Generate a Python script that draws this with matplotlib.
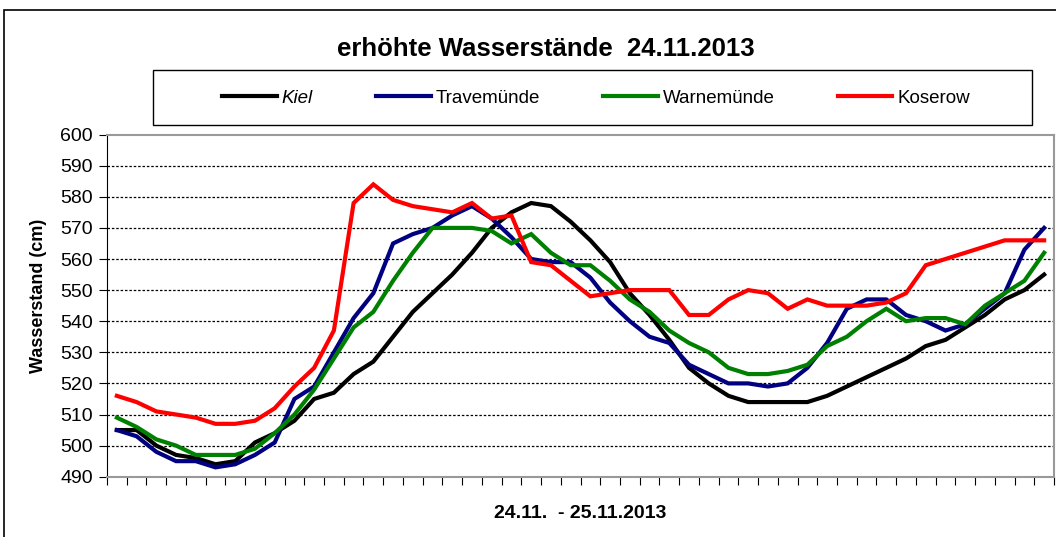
import matplotlib
matplotlib.use("Agg")
from matplotlib import pyplot as plt
from matplotlib.patches import Rectangle
import numpy as np

plt.rcParams['font.family'] = ['Liberation Sans', 'DejaVu Sans']

# Wasserstände (cm), 48 Werte 24.11. - 25.11.2013
kiel = [505, 505, 500, 497, 496, 494, 495, 501, 504, 508, 515, 517, 523, 527, 535, 543,
        549, 555, 562, 570, 575, 578, 577, 572, 566, 559, 549, 542, 534, 525, 520, 516,
        514, 514, 514, 514, 516, 519, 522, 525, 528, 532, 534, 538, 542, 547, 550, 555]
travemuende = [505, 503, 498, 495, 495, 493, 494, 497, 501, 515, 519, 530, 541, 549, 565, 568,
               570, 574, 577, 573, 567, 560, 559, 559, 554, 546, 540, 535, 533, 526, 523, 520,
               520, 519, 520, 525, 533, 544, 547, 547, 542, 540, 537, 539, 544, 549, 563, 570]
warnemuende = [509, 506, 502, 500, 497, 497, 497, 499, 504, 510, 518, 528, 538, 543, 553, 562,
               570, 570, 570, 569, 565, 568, 562, 558, 558, 553, 547, 543, 537, 533, 530, 525,
               523, 523, 524, 526, 532, 535, 540, 544, 540, 541, 541, 539, 545, 549, 553, 562]
koserow = [516, 514, 511, 510, 509, 507, 507, 508, 512, 519, 525, 537, 578, 584, 579, 577,
           576, 575, 578, 573, 574, 559, 558, 553, 548, 549, 550, 550, 550, 542, 542, 547,
           550, 549, 544, 547, 545, 545, 545, 546, 549, 558, 560, 562, 564, 566, 566, 566]

namen = ['Kiel', 'Travemünde', 'Warnemünde', 'Koserow']
farben = ['#000000', '#000080', '#008000', '#FF0000']

W, H = 1056, 537
fig = plt.figure(figsize=(W / 100, H / 100), dpi=100)
ax = fig.add_axes([107/W, 1 - 476.7/H, (1054 - 107)/W, (476.7 - 134.6)/H])

x = np.arange(len(kiel))
linien = []
for werte, name, farbe in zip([kiel, travemuende, warnemuende, koserow], namen, farben):
    l, = ax.plot(x, werte, color=farbe, lw=3.0, label=name, solid_joinstyle='miter')
    linien.append(l)

ax.set_xlim(-0.5, len(kiel) - 0.5)
ax.set_ylim(490, 600)
ax.set_yticks(np.arange(490, 601, 10))
ax.set_xticks(np.arange(-0.5, len(kiel), 1))
ax.set_xticklabels([])
ax.tick_params(axis='y', direction='out', length=6, labelsize=14, pad=4)
ax.tick_params(axis='x', direction='out', length=6, color='black')
for y in range(500, 600, 10):
    ax.axhline(y, color='black', lw=0.9, ls=(0, (2, 1.5)), zorder=0)

ax.spines['left'].set_color('black')
for s in ['top', 'right', 'bottom']:
    ax.spines[s].set_color('#999999')
    ax.spines[s].set_linewidth(1.5)

ax.set_ylabel('Wasserstand (cm)', fontsize=13, fontweight='bold')
ax.yaxis.set_label_coords(-0.063, 0.528)
ax.set_xlabel('24.11.  - 25.11.2013', fontsize=14, fontweight='bold', labelpad=11)

fig.text(546/W, 1 - 49/H, 'erhöhte Wasserstände  24.11.2013', ha='center', va='center',
         fontsize=18.5, fontweight='bold')

# Legendenkasten
fig.patches.append(Rectangle((153/W, 1 - 125/H), (1032 - 153)/W, 55/H, transform=fig.transFigure,
                             fill=False, edgecolor='black', lw=1.0))
leg = fig.legend(handles=linien, loc='center', ncol=4,
                 bbox_to_anchor=(596/W, 1 - 98/H),
                 frameon=False, fontsize=13.5,
                 handlelength=2.9, handletextpad=0.25, columnspacing=3.4, borderaxespad=0)
leg.get_texts()[0].set_style('italic')

# Rahmen um das ganze Diagramm
fig.patches.append(Rectangle((4/W, -0.1), 1.2, 1.1 - 10/H, transform=fig.transFigure,
                             fill=False, edgecolor='black', lw=1.2))

fig.savefig('out.png', dpi=100)
